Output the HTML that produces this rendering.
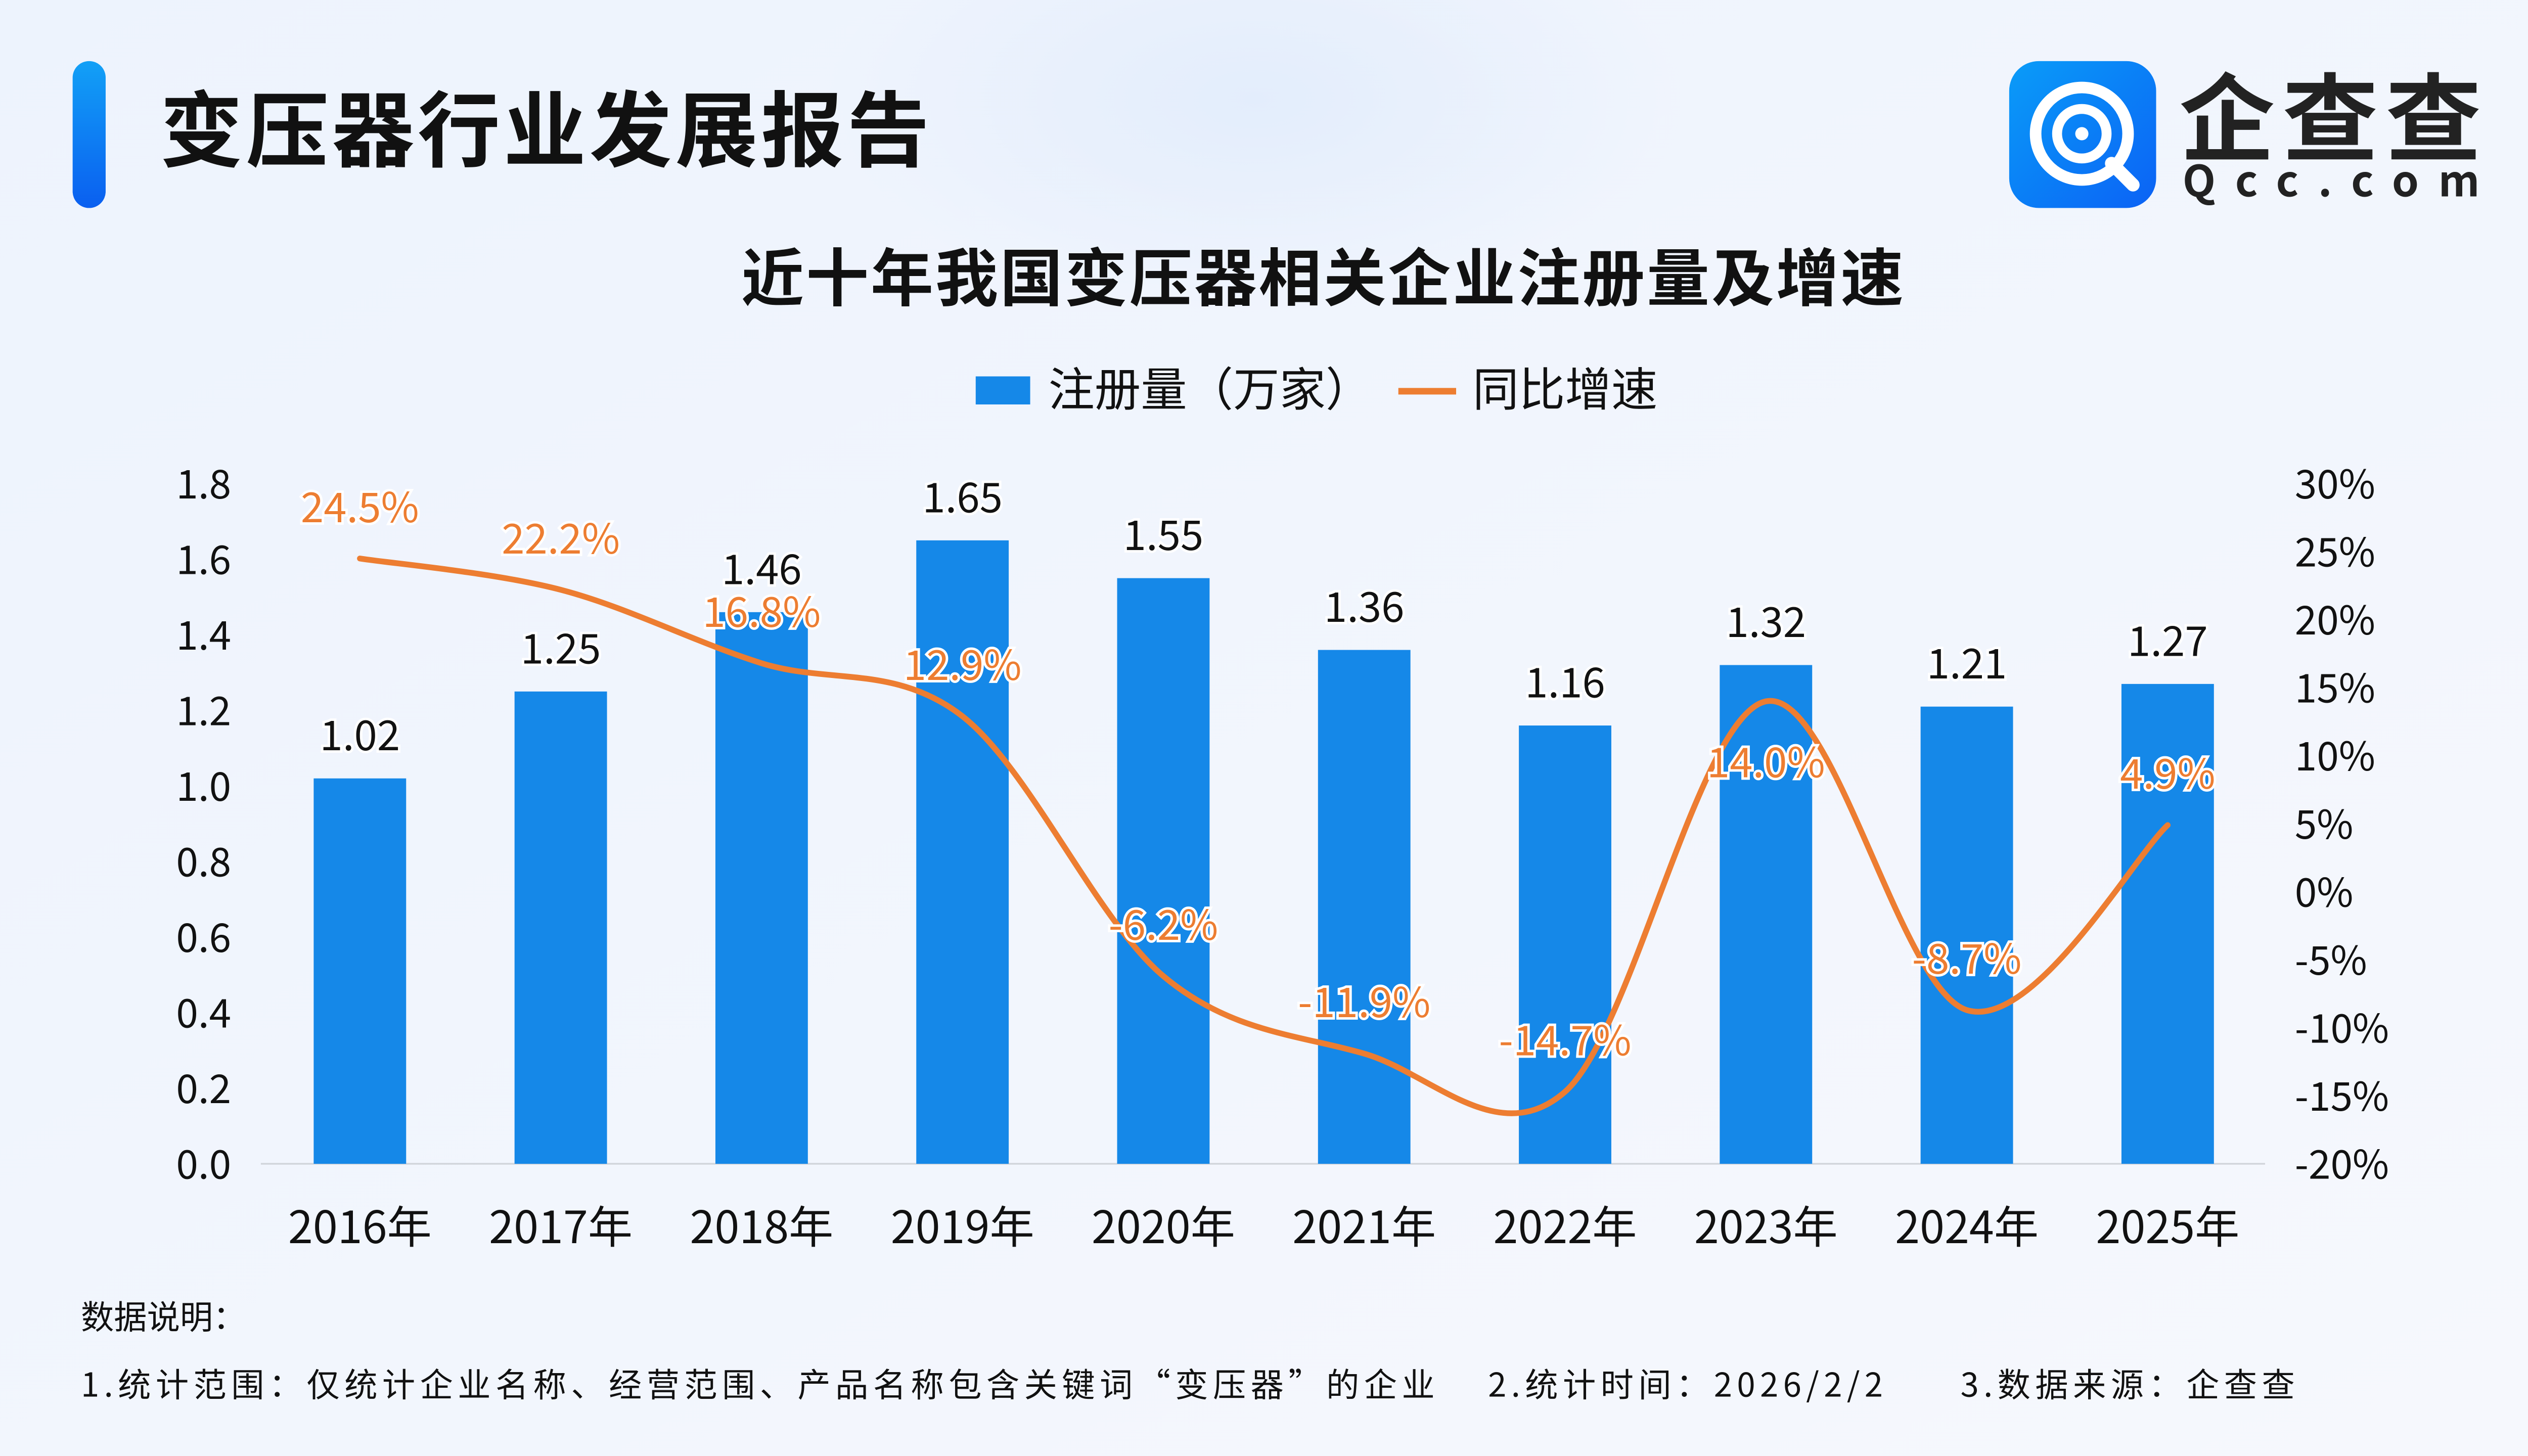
<!DOCTYPE html>
<html><head><meta charset="utf-8"><style>
html,body{margin:0;padding:0;}
body{width:5120px;height:2880px;overflow:hidden;background:#f0f5fd;}
svg{display:block;font-family:"Noto Sans CJK SC","Liberation Sans",sans-serif;}
</style></head><body>
<svg id="chart" width="5120" height="2880" viewBox="0 0 1568 882" xmlns="http://www.w3.org/2000/svg">
<defs>
<linearGradient id="bg" x1="0" y1="0" x2="1" y2="1"><stop offset="0" stop-color="#edf3fd"/><stop offset="1" stop-color="#f6f8fd"/></linearGradient>
<radialGradient id="glow" cx="0.5" cy="0.5" r="0.5"><stop offset="0" stop-color="#e3edfc"/><stop offset="1" stop-color="#e3edfc" stop-opacity="0"/></radialGradient>
<linearGradient id="acc" x1="0" y1="0" x2="0" y2="1"><stop offset="0" stop-color="#12a0f6"/><stop offset="1" stop-color="#0a5ff0"/></linearGradient>
<linearGradient id="logo" x1="0" y1="0" x2="1" y2="1"><stop offset="0" stop-color="#0a9cf8"/><stop offset="1" stop-color="#0b62f5"/></linearGradient>
</defs>
<rect x="0" y="0" width="1568" height="882" fill="url(#bg)"/>
<ellipse cx="760" cy="60" rx="260" ry="130" fill="url(#glow)"/>
<rect x="44" y="37" width="20" height="89" rx="10" fill="url(#acc)"/>
<text x="97" y="97" font-size="50" font-weight="bold" fill="#111" textLength="466">变压器行业发展报告</text>
<g>
<rect x="1217" y="37" width="89" height="89" rx="18" fill="url(#logo)"/>
<circle cx="1261" cy="81" r="28" fill="none" stroke="#fff" stroke-width="7"/>
<circle cx="1261" cy="81" r="15" fill="none" stroke="#fff" stroke-width="6"/>
<circle cx="1261" cy="81" r="4" fill="#fff"/>
<line x1="1279" y1="99" x2="1292" y2="112" stroke="#fff" stroke-width="8" stroke-linecap="round"/>
<text x="1320" y="93" font-size="58" font-weight="bold" fill="#222" textLength="183">企查查</text>
<text x="1322" y="119" font-size="26" font-weight="bold" fill="#222" textLength="180">Qcc.com</text>
</g>
<text x="801" y="182" font-size="38" font-weight="bold" fill="#111" text-anchor="middle" textLength="704">近十年我国变压器相关企业注册量及增速</text>
<g>
<rect x="591" y="228" width="33" height="17" fill="#1588e8"/>
<text x="635" y="246" font-size="28" fill="#111">注册量（万家）</text>
<line x1="847" y1="237" x2="882" y2="237" stroke="#ed7d31" stroke-width="4"/>
<text x="892" y="246" font-size="28" fill="#111">同比增速</text>
</g>
<g id="plot"></g>
<text x="49" y="805" font-size="20" fill="#111" textLength="100">数据说明：</text>
<text x="49" y="846" font-size="20" fill="#111" xml:space="preserve" textLength="1341">1.统计范围：仅统计企业名称、经营范围、产品名称包含关键词“变压器”的企业    2.统计时间：2026/2/2      3.数据来源：企查查</text>
</svg>
<script>
const categories=["2016年","2017年","2018年","2019年","2020年","2021年","2022年","2023年","2024年","2025年"];
const registrations=[1.02,1.25,1.46,1.65,1.55,1.36,1.16,1.32,1.21,1.27];
const growth=[24.5,22.2,16.8,12.9,-6.2,-11.9,-14.7,14.0,-8.7,4.9];
const leftTicks=[0,0.2,0.4,0.6,0.8,1.0,1.2,1.4,1.6,1.8];
const rightTicks=[-20,-15,-10,-5,0,5,10,15,20,25,30];
const growthLabelBelow=[false,false,false,false,false,false,false,true,false,false];

const NS="http://www.w3.org/2000/svg";
const g=document.getElementById('plot');
const top0=293,bot=705,x0=218,step=(1313-218)/9,bw=56;
const yL=v=>bot-(v-0)/1.8*(bot-top0);
const yR=v=>bot-(v+20)/50*(bot-top0);
const xC=i=>x0+i*step;
function mk(tag,attrs,txt){const e=document.createElementNS(NS,tag);for(const k in attrs)e.setAttribute(k,attrs[k]);if(txt!==undefined)e.textContent=txt;g.appendChild(e);return e;}

const axis=mk('line',{x1:158,x2:1372,y1:bot,y2:bot,stroke:'#d0d4da','stroke-width':1});



leftTicks.forEach(v=>{
  const t=mk('text',{x:140,y:yL(v)+9,'font-size':24,fill:'#111','text-anchor':'end'},v.toFixed(1));
  
  
});
rightTicks.forEach(v=>{
  const t=mk('text',{x:1390,y:yR(v)+9,'font-size':24,fill:'#111'},v+'%');
  
  
});
categories.forEach((c,i)=>{
  const t=mk('text',{x:xC(i),y:753,'font-size':27,fill:'#111','text-anchor':'middle'},c);
  
  
});
registrations.forEach((v,i)=>{
  const r=mk('rect',{x:xC(i)-bw/2,y:yL(v),width:bw,height:bot-yL(v),fill:'#1588e8'});
  
  
});
const pts=growth.map((v,i)=>[xC(i),yR(v)]);
let d='M'+pts[0][0]+','+pts[0][1];
for(let i=0;i<pts.length-1;i++){
  const p0=pts[i-1]||pts[i],p1=pts[i],p2=pts[i+1],p3=pts[i+2]||p2;
  const k=1/6;
  d+=' C'+(p1[0]+(p2[0]-p0[0])*k)+','+(p1[1]+(p2[1]-p0[1])*k)+' '+(p2[0]-(p3[0]-p1[0])*k)+','+(p2[1]-(p3[1]-p1[1])*k)+' '+p2[0]+','+p2[1];
}
const line=mk('path',{d:d,fill:'none',stroke:'#ed7d31','stroke-width':3.5,'stroke-linecap':'round'});



registrations.forEach((v,i)=>{
  const t=mk('text',{x:xC(i),y:yL(v)-17,'font-size':25,fill:'#111','text-anchor':'middle',stroke:'#fff','stroke-width':3,'paint-order':'stroke'},v.toFixed(2));
  
  
});
growth.forEach((v,i)=>{
  const ly=growthLabelBelow[i]?yR(v)+46:yR(v)-22;
  const t=mk('text',{x:xC(i),y:ly,'font-size':25,fill:'#ed7d31','text-anchor':'middle',stroke:'#fff','stroke-width':3,'paint-order':'stroke'},v.toFixed(1)+'%');
  
  
});
</script>
</body></html>
